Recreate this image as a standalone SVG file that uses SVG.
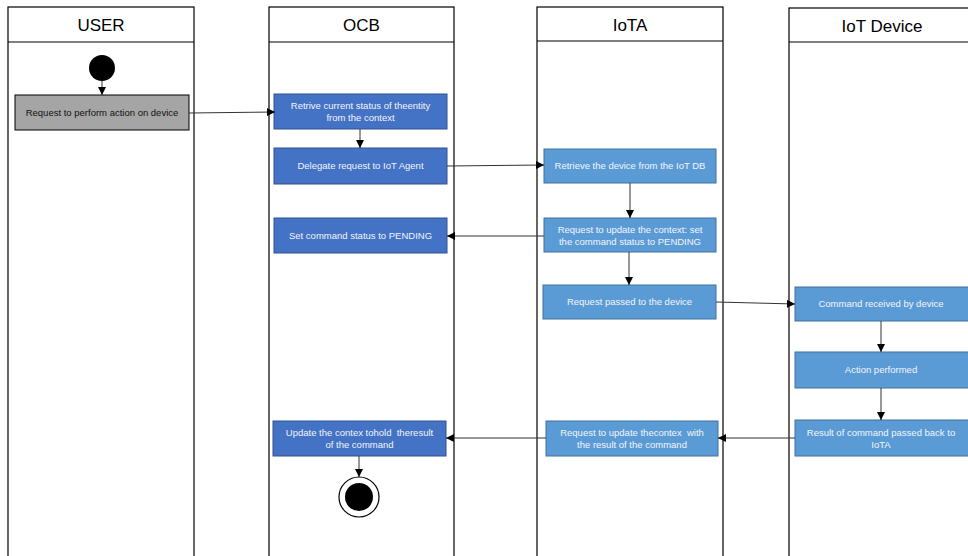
<svg xmlns="http://www.w3.org/2000/svg" width="968" height="556" viewBox="0 0 968 556">
<style>
.lane{fill:#fff;stroke:#000;stroke-width:1.2}
.hdr{font-family:"Liberation Sans",Arial,sans-serif;font-size:17px;fill:#000;text-anchor:middle}
.dk{fill:#4472c4;stroke:#2f528f;stroke-width:1}
.lt{fill:#5b9bd5;stroke:#41719c;stroke-width:1}
.gr{fill:#a5a5a5;stroke:#000;stroke-width:1}
.t{font-family:"Liberation Sans",Arial,sans-serif;font-size:9.5px;fill:#f2f5fb;text-anchor:middle;white-space:pre}
.tb{font-family:"Liberation Sans",Arial,sans-serif;font-size:9.5px;fill:#111;text-anchor:middle}
.c{fill:none;stroke:#333;stroke-width:1;marker-end:url(#ah)}
</style>
<defs>
<marker id="ah" markerUnits="userSpaceOnUse" markerWidth="8" markerHeight="8" refX="8" refY="4" orient="auto">
<path d="M0,0 L8,4 L0,8 z" fill="#000"/>
</marker>
</defs>
<rect width="968" height="556" fill="#fff"/>
<g id="lane-user">
<rect class="lane" x="8" y="7" width="186" height="560"/>
<line x1="8" y1="42" x2="194" y2="42" stroke="#000" stroke-width="1.2"/>
<text class="hdr" x="101" y="31">USER</text>
</g>
<g id="lane-ocb">
<rect class="lane" x="269" y="7" width="185" height="560"/>
<line x1="269" y1="42" x2="454" y2="42" stroke="#000" stroke-width="1.2"/>
<text class="hdr" x="361.5" y="31">OCB</text>
</g>
<g id="lane-iota">
<rect class="lane" x="537" y="7" width="186" height="560"/>
<line x1="537" y1="41" x2="723" y2="41" stroke="#000" stroke-width="1.2"/>
<text class="hdr" x="630" y="31">IoTA</text>
</g>
<g id="lane-device">
<rect class="lane" x="789" y="8" width="190" height="560"/>
<line x1="789" y1="42" x2="979" y2="42" stroke="#000" stroke-width="1.2"/>
<text class="hdr" x="882" y="32">IoT Device</text>
</g>
<g id="start"><circle cx="102" cy="68" r="13" fill="#000"/></g>
<g id="n-user"><rect class="gr" x="15" y="95" width="174" height="35"/><text class="tb" x="102" y="116">Request to perform action on device</text></g>
<g id="n-ocb1"><rect class="dk" x="274" y="94" width="173" height="35"/><text class="t" x="360.5" y="109">Retrive current status of theentity</text><text class="t" x="360.5" y="121">from the context</text></g>
<g id="n-ocb2"><rect class="dk" x="274" y="148" width="173" height="36"/><text class="t" x="360.5" y="169">Delegate request to IoT Agent</text></g>
<g id="n-ocb3"><rect class="dk" x="274" y="218" width="173" height="35"/><text class="t" x="360.5" y="239">Set command status to PENDING</text></g>
<g id="n-ocb4"><rect class="dk" x="273" y="421" width="173" height="35"/><text class="t" x="359.5" y="436">Update the contex tohold  theresult</text><text class="t" x="359.5" y="448">of the command</text></g>
<g id="end"><circle cx="359" cy="497" r="20" fill="#fff" stroke="#000" stroke-width="1.2"/><circle cx="359" cy="497" r="14" fill="#000"/></g>
<g id="n-iota1"><rect class="lt" x="544" y="149" width="172" height="34"/><text class="t" x="630" y="169">Retrieve the device from the IoT DB</text></g>
<g id="n-iota2"><rect class="lt" x="544" y="218" width="172" height="34"/><text class="t" x="630" y="233">Request to update the context: set</text><text class="t" x="630" y="245">the command status to PENDING</text></g>
<g id="n-iota3"><rect class="lt" x="543" y="285" width="173" height="34"/><text class="t" x="629.5" y="305">Request passed to the device</text></g>
<g id="n-iota4"><rect class="lt" x="546" y="421" width="172" height="35"/><text class="t" x="632" y="436">Request to update thecontex  with</text><text class="t" x="632" y="448">the result of the command</text></g>
<g id="n-dev1"><rect class="lt" x="795" y="287" width="180" height="34"/><text class="t" x="881" y="307">Command received by device</text></g>
<g id="n-dev2"><rect class="lt" x="795" y="352" width="180" height="36"/><text class="t" x="881" y="373">Action performed</text></g>
<g id="n-dev3"><rect class="lt" x="795" y="420" width="180" height="36"/><text class="t" x="881" y="436">Result of command passed back to</text><text class="t" x="881" y="448">IoTA</text></g>
<g id="connectors">
<path class="c" d="M102,81 L102,95"/>
<path class="c" d="M189,113 L275,112"/>
<path class="c" d="M360,129 L360,148"/>
<path class="c" d="M447,166 L544,165"/>
<path class="c" d="M630,183 L630,218"/>
<path class="c" d="M544,236 L447,236"/>
<path class="c" d="M629,252 L629,285"/>
<path class="c" d="M716,302 L795,304"/>
<path class="c" d="M881,321 L881,352"/>
<path class="c" d="M881,388 L881,420"/>
<path class="c" d="M795,438 L718,438"/>
<path class="c" d="M546,438 L446,438"/>
<path class="c" d="M359,456 L359,477"/>
</g>
</svg>
